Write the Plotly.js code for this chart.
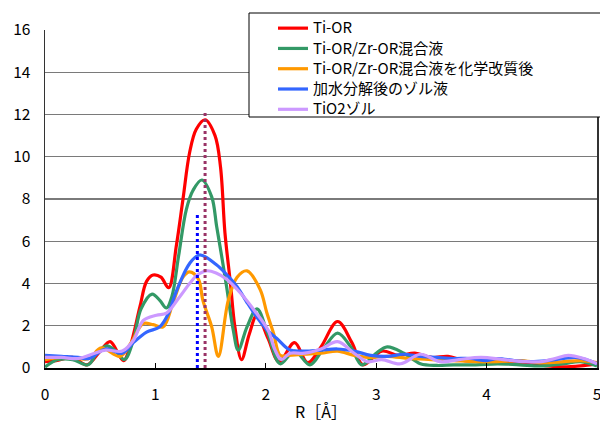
<!DOCTYPE html>
<html>
<head>
<meta charset="utf-8">
<script src="https://cdn.plot.ly/plotly-3.0.1.min.js"></script>
<style>html,body{margin:0;padding:0;background:#fff;}#chart{width:600px;height:430px;}</style>
</head>
<body>
<div id="chart"></div>
<script>
// Series names
const seriesNames = ["Ti-OR", "Ti-OR/Zr-OR混合液", "Ti-OR/Zr-OR混合液を化学改質後", "加水分解後のゾル液", "TiO2ゾル"];

// Ti-OR
const redX = [0,0.1,0.25,0.38,0.5,0.59,0.71,0.77,0.86,0.92,0.98,1.05,1.12,1.19,1.25,1.31,1.37,1.45,1.54,1.59,1.63,1.68,1.72,1.78,1.85,1.92,2.02,2.12,2.26,2.38,2.5,2.65,2.78,2.88,3.05,3.2,3.35,3.5,3.65,3.8,3.95,4.1,4.25,4.4,4.55,4.7,4.85,5.0];
const redY = [0.3,0.35,0.5,0.15,0.8,1.25,0.35,1.0,2.9,4.1,4.4,4.3,3.8,5.8,8.0,10.2,11.3,11.75,11.0,9.5,6.4,4.0,1.95,0.4,1.6,2.5,1.4,0.3,1.2,0.25,1.0,2.2,1.2,0.15,0.8,0.6,0.7,0.5,0.55,0.35,0.35,0.25,0.3,0.2,0.1,0.05,0.1,0.2];

// Ti-OR/Zr-OR混合液
const greenX = [0,0.12,0.25,0.39,0.47,0.56,0.64,0.72,0.8,0.87,0.97,1.04,1.10,1.15,1.21,1.28,1.34,1.42,1.51,1.555,1.6,1.645,1.705,1.75,1.83,1.92,2.02,2.13,2.26,2.4,2.52,2.65,2.77,2.87,3.0,3.1,3.25,3.4,3.55,3.7,3.9,4.1,4.3,4.5,4.7,4.85,5.0];
const greenY = [0.05,0.4,0.4,0.15,0.7,1.05,0.8,0.4,1.3,2.8,3.5,3.2,2.84,3.4,5.3,7.5,8.4,8.9,8.1,6.7,5.3,3.85,1.8,0.85,1.95,2.8,1.6,0.2,0.8,0.15,0.9,1.65,1.0,0.15,0.7,1.0,0.7,0.2,0.12,0.15,0.15,0.2,0.15,0.1,0.2,0.3,0.1];

// Ti-OR/Zr-OR混合液を化学改質後
const orangeX = [0,0.15,0.3,0.4,0.51,0.68,0.78,0.89,0.98,1.07,1.16,1.25,1.31,1.39,1.43,1.51,1.57,1.66,1.74,1.83,1.95,2.01,2.07,2.13,2.2,2.35,2.5,2.65,2.8,2.95,3.1,3.3,3.5,3.7,3.9,4.1,4.3,4.5,4.7,4.85,5.0];
const orangeY = [0.4,0.5,0.45,0.45,0.95,0.55,1.2,2.1,2.05,1.95,3.1,4.3,4.55,4.2,3.2,1.95,0.55,3.2,4.3,4.6,3.7,2.6,1.65,0.6,0.6,0.65,0.7,0.8,0.6,0.5,0.55,0.45,0.4,0.35,0.3,0.3,0.35,0.25,0.3,0.35,0.25];

// 加水分解後のゾル液
const blueX = [0,0.15,0.3,0.4,0.55,0.7,0.8,0.92,1.04,1.12,1.18,1.31,1.4,1.55,1.65,1.74,1.83,1.92,2.01,2.1,2.22,2.35,2.5,2.65,2.8,2.95,3.1,3.25,3.4,3.55,3.7,3.85,4.0,4.1,4.25,4.4,4.55,4.7,4.8,4.9,5.0];
const blueY = [0.6,0.55,0.5,0.45,0.9,0.7,1.2,1.7,1.95,2.6,3.5,4.95,5.35,4.9,4.4,3.85,3.1,2.4,1.8,1.4,0.85,0.8,0.85,0.9,0.8,0.6,0.55,0.65,0.55,0.5,0.45,0.45,0.35,0.45,0.35,0.3,0.35,0.45,0.5,0.4,0.2];

// TiO2ゾル
const lavX = [0,0.15,0.3,0.45,0.55,0.7,0.8,0.89,1.01,1.1,1.21,1.31,1.38,1.46,1.55,1.645,1.77,1.9,2.02,2.08,2.14,2.22,2.35,2.5,2.65,2.8,2.92,3.05,3.22,3.4,3.58,3.75,3.95,4.15,4.35,4.5,4.62,4.74,4.88,5.0];
const lavY = [0.5,0.5,0.45,0.7,0.85,0.8,1.3,2.25,2.5,2.6,3.3,4.0,4.4,4.6,4.5,4.2,3.55,2.7,1.8,0.9,0.4,0.7,0.7,0.9,1.25,0.7,0.3,0.4,0.2,0.65,0.3,0.4,0.5,0.4,0.3,0.3,0.45,0.6,0.45,0.2];

// Vertical dotted marker lines (R position, height)
const markerR = [1.38, 1.45];
const markerTop = [7.35, 12.1];

const xTicks = [0, 1, 2, 3, 4, 5];
const yTicks = [0, 2, 4, 6, 8, 10, 12, 14, 16];

const colors = ["#FF0000", "#339966", "#FF9900", "#3366FF", "#CC99FF"];
const markerColors = ["#0000FF", "#993366"];

const xs = [redX, greenX, orangeX, blueX, lavX];
const ys = [redY, greenY, orangeY, blueY, lavY];

const traces = xs.map((x, i) => ({
  type: "scatter", mode: "lines", x: x, y: ys[i],
  name: '<span style="font-size:15px">' + seriesNames[i] + '</span>',
  line: {color: colors[i], width: 3.2, shape: "spline", smoothing: 1}
}));

markerR.forEach((r, i) => {
  traces.push({
    type: "scatter", mode: "lines", x: [r, r], y: [0, markerTop[i]],
    showlegend: false, line: {color: markerColors[i], width: 3, dash: "dot"}
  });
});

const L = 45, R = 3, T = 30, B = 62, W = 600, H = 430;
const pw = W - L - R, ph = H - T - B;
const px = v => (v - L) / pw;
const py = v => (H - B - v) / ph;

const layout = {
  width: W, height: H,
  margin: {l: L, r: R, t: T, b: B, pad: 0},
  paper_bgcolor: "#fff", plot_bgcolor: "#fff",
  font: {family: "'Noto Sans CJK JP', 'Noto Sans', sans-serif", size: 15.5, color: "#000"},
  xaxis: {
    range: [0, 5], tickvals: xTicks, ticktext: xTicks.map(String),
    showgrid: false, zeroline: false, showline: true, mirror: false,
    linecolor: "#000", linewidth: 1.5,
    ticks: "inside", ticklen: 5, tickcolor: "#000", tickwidth: 1,
    ticklabelstandoff: 12, ticklabeloverflow: "allow",
    title: {text: "R［Å］", font: {size: 16}, standoff: 3}
  },
  yaxis: {
    range: [0, 16], tickvals: yTicks, ticktext: yTicks.map(String),
    showgrid: true, gridcolor: "#7a7a7a", gridwidth: 1.3,
    zeroline: false, showline: true, mirror: true,
    linecolor: "#333", linewidth: 1.5,
    ticks: "", ticklabelstandoff: 10
  },
  showlegend: true,
  legend: {
    x: px(273), y: py(13), xanchor: "left", yanchor: "top",
    bgcolor: "rgba(0,0,0,0)", borderwidth: 0,
    font: {size: 13.3}, itemwidth: 30, tracegroupgap: 0
  },
  shapes: [{
    type: "rect", xref: "paper", yref: "paper",
    x0: px(249), x1: px(640), y0: py(117), y1: py(13),
    line: {color: "#000", width: 1}, fillcolor: "#fff", layer: "above"
  }]
};

Plotly.newPlot("chart", traces, layout, {staticPlot: true, displayModeBar: false});
</script>
</body>
</html>
